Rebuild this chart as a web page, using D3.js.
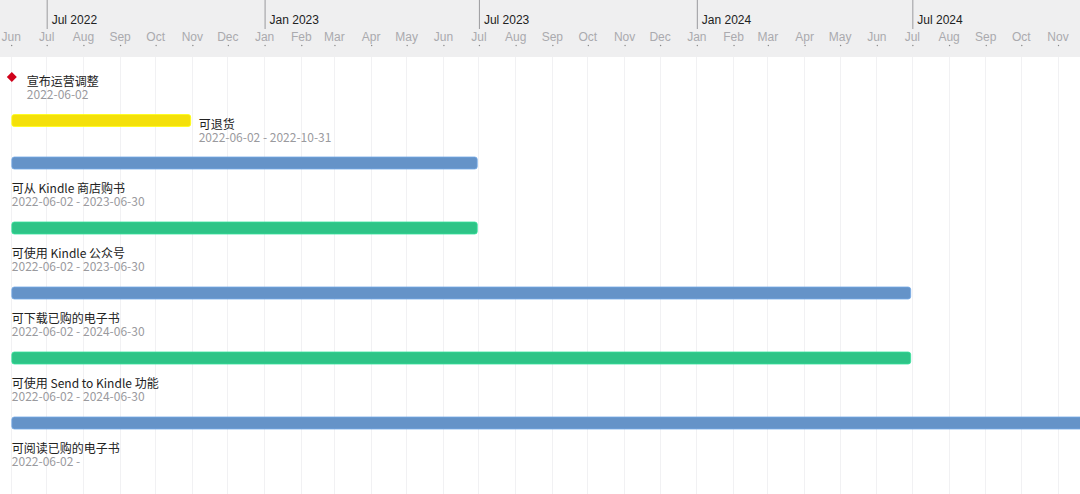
<!DOCTYPE html>
<html><head><meta charset="utf-8">
<script src="https://cdn.jsdelivr.net/npm/d3@7/dist/d3.min.js"></script>
<style>
html,body{margin:0;padding:0;background:#fff;}
svg{display:block;font-family:"Noto Sans CJK SC","Noto Sans","Open Sans",sans-serif;}
</style></head><body>
<svg id="chart" width="1080" height="494"></svg>
<script>
// Data
const taskNames = ["宣布运营调整","可退货","可从 Kindle 商店购书","可使用 Kindle 公众号","可下载已购的电子书","可使用 Send to Kindle 功能","可阅读已购的电子书"];
const taskTypes = ["milestone","bar","bar","bar","bar","bar","bar"];
const startDates = ["2022-06-02","2022-06-02","2022-06-02","2022-06-02","2022-06-02","2022-06-02","2022-06-02"];
const endDates = [null,"2022-10-31","2023-06-30","2023-06-30","2024-06-30","2024-06-30",null];
const dateLabels = ["2022-06-02","2022-06-02 - 2022-10-31","2022-06-02 - 2023-06-30","2022-06-02 - 2023-06-30","2022-06-02 - 2024-06-30","2022-06-02 - 2024-06-30","2022-06-02 -"];
const barColors = ["#d0021b","#f4e00a","#6593c8","#2ec487","#6593c8","#2ec487","#6593c8"];
const viewStart = "2022-05-23", viewEnd = "2024-11-20";

const W=1080,H=494,headerH=57;
const parse=d3.utcParse("%Y-%m-%d");
const svg=d3.select("#chart");
const x=d3.scaleUtc().domain([parse(viewStart),parse(viewEnd)]).range([0,W]);

// header
svg.append("rect").attr("x",0).attr("y",0).attr("width",W).attr("height",headerH).attr("fill","#efeff0");
const months=d3.utcMonth.range(d3.utcMonth.floor(x.domain()[0]),x.domain()[1]);
// grid
svg.append("g").selectAll("line").data(months).join("line")
  .attr("x1",d=>Math.round(x(d))+0.5).attr("x2",d=>Math.round(x(d))+0.5)
  .attr("y1",headerH).attr("y2",H).attr("stroke","#f1f1f3").attr("stroke-width",1);
// month axis
const mAxis=d3.axisBottom(x).tickValues(months.filter(d=>x(d)>=0)).tickFormat(d3.utcFormat("%b")).tickSize(0).tickPadding(0);
const mg=svg.append("g").attr("transform","translate(0,30)").call(mAxis);
mg.select(".domain").remove();
mg.selectAll("text").attr("fill","#aaaaae").attr("font-size",12).attr("dy","0.95em");
mg.selectAll(".tick").append("circle").attr("cx",0.5).attr("cy",15.5).attr("r",0.7).attr("fill","#888");
// half-year axis
const half=d3.utcMonth.every(6).range(x.domain()[0],x.domain()[1]);
const hAxis=d3.axisTop(x).tickValues(half).tickFormat(d3.utcFormat("%b %Y")).tickSize(0);
const hg=svg.append("g").attr("transform","translate(0,0)").call(hAxis);
hg.select(".domain").remove();
hg.selectAll(".tick line").remove();
hg.selectAll(".tick").append("line").attr("x1",0.5).attr("x2",0.5).attr("y1",0).attr("y2",29).attr("stroke","#9a9a9e");
hg.selectAll("text").attr("fill","#222").attr("font-size",12).attr("font-weight",500)
  .attr("text-anchor","start").attr("x",5).attr("y",24).attr("dy",null);

// rows
let yCur=77;
const g=svg.append("g");
taskNames.forEach((name,i)=>{
  const s=parse(startDates[i]);
  if(taskTypes[i]==="milestone"){
    const cx=x(s);
    g.append("path").attr("d",d3.symbol(d3.symbolSquare,50)()).attr("transform",`translate(${cx},${yCur}) rotate(45)`).attr("fill",barColors[i]);
    g.append("text").attr("x",cx+15).attr("y",yCur+9).attr("font-size",12).attr("fill","#222").text(name);
    g.append("text").attr("x",cx+15).attr("y",yCur+22).attr("font-size",12).attr("fill","#9a9a9e").text(dateLabels[i]);
    yCur+=43.5;
    return;
  }
  const e=endDates[i]?parse(endDates[i]):x.domain()[1];
  const x0=x(s), x1=endDates[i]?x(e):W+10;
  const bh=12;
  g.append("rect").attr("x",x0).attr("y",yCur-bh/2).attr("width",x1-x0).attr("height",bh)
    .attr("rx",2.5).attr("fill",barColors[i]).attr("stroke",d3.color(barColors[i]).brighter(0.4)).attr("stroke-width",0.8);
  const shortBar = (x1-x0) < 300;
  if(shortBar){
    g.append("text").attr("x",x1+8).attr("y",yCur+8).attr("font-size",12).attr("fill","#222").text(name);
    g.append("text").attr("x",x1+8).attr("y",yCur+21).attr("font-size",12).attr("fill","#9a9a9e").text(dateLabels[i]);
    yCur+=42.5;
  } else {
    g.append("text").attr("x",x0).attr("y",yCur+30).attr("font-size",12).attr("fill","#222").text(name);
    g.append("text").attr("x",x0).attr("y",yCur+43).attr("font-size",12).attr("fill","#9a9a9e").text(dateLabels[i]);
    yCur+=65;
  }
});
</script></body></html>
